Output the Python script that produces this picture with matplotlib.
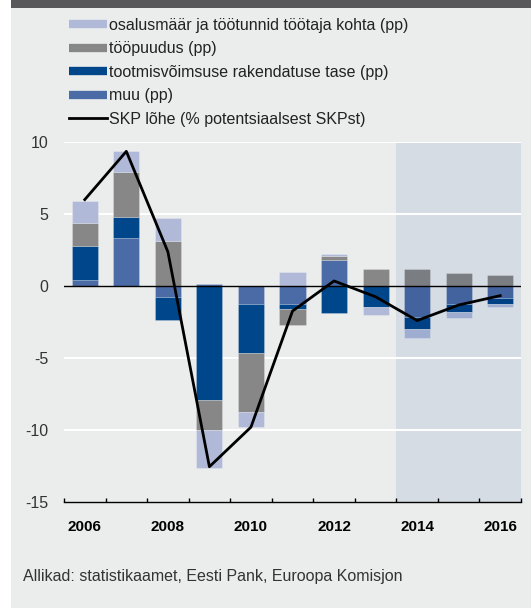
import numpy as np
import matplotlib.pyplot as plt
from matplotlib.lines import Line2D
from matplotlib.patches import Rectangle

plt.rcParams['font.family'] = ['Liberation Sans', 'DejaVu Sans']

# Data (percentage points)
years = list(range(2006, 2017))
muu = [0.42, 3.33, -0.74, 0.14, -1.25, -1.27, 1.80, 0.00, -2.18, -1.25, -0.86]
tootmisvoimsus = [2.33, 1.48, -1.62, -7.92, -3.43, -0.35, -1.90, -1.44, -0.81, -0.53, -0.41]
toopuudus = [1.62, 3.11, 3.15, -2.08, -4.05, -1.09, 0.30, 1.16, 1.16, 0.88, 0.79]
osalusmaar = [1.55, 1.43, 1.59, -2.66, -1.04, 0.95, 0.12, -0.55, -0.64, -0.42, -0.21]
skp_lohe = [6.0, 9.35, 2.38, -12.55, -9.8, -1.74, 0.35, -0.75, -2.4, -1.32, -0.67]
forecast_from = 2014

labels = ['osalusmäär ja töötunnid töötaja kohta (pp)', 'tööpuudus (pp)',
          'tootmisvõimsuse rakendatuse tase (pp)', 'muu (pp)',
          'SKP lõhe (% potentsiaalsest SKPst)']
source = 'Allikad: statistikaamet, Eesti Pank, Euroopa Komisjon'

bg = '#ebedec'
shade = '#d5dce3'
shade_mult = np.array([0.906, 0.928, 0.962])
col_os = '#b0bad8'
col_tp = '#878787'
col_tv = '#00468a'
col_muu = '#4a6ba5'

fig = plt.figure(figsize=(5.31, 6.08), dpi=100, facecolor='white')
fig.patches.append(Rectangle((11 / 531, 0), 1, 1, transform=fig.transFigure,
                             facecolor=bg, edgecolor='none', zorder=-10))
fig.patches.append(Rectangle((11 / 531, 1 - 8 / 608), 1, 8 / 608, transform=fig.transFigure,
                             facecolor='#58585a', edgecolor='none', zorder=-9))

ax = fig.add_axes([64 / 531, 1 - 502 / 608, (521 - 64) / 531, (502 - 142) / 608])
ax.set_facecolor('none')

x = np.arange(len(years))
n_fc = years.index(forecast_from)
ax.axvspan(n_fc - 0.5, len(years) - 0.5, color=shade, zorder=0, lw=0)

for v in [10, 5, -5, -10]:
    ax.axhline(v, color='white', lw=1.5, zorder=1)


def bar_colors(c):
    # bars under the forecast shading look darker (multiply blend)
    base = np.array(plt.matplotlib.colors.to_rgb(c))
    return [tuple(base * shade_mult) if i >= n_fc else tuple(base) for i in range(len(years))]


pos = np.zeros(len(years))
neg = np.zeros(len(years))
for vals, c in [(muu, col_muu), (tootmisvoimsus, col_tv), (toopuudus, col_tp), (osalusmaar, col_os)]:
    vals = np.array(vals)
    bottom = np.where(vals >= 0, pos, neg)
    ax.bar(x, vals, bottom=bottom, width=0.63, color=bar_colors(c),
           edgecolor=(1, 1, 1, 0.25), linewidth=0.6, zorder=2)
    pos = pos + np.where(vals >= 0, vals, 0)
    neg = neg + np.where(vals < 0, vals, 0)

ax.axhline(0, color='black', lw=1, zorder=3)
ax.plot(x, skp_lohe, color='black', lw=2, zorder=4)

ax.set_xlim(-0.5, len(years) - 0.5)
ax.set_ylim(-15, 10)
ax.set_yticks([10, 5, 0, -5, -10, -15])
ax.set_yticklabels(['10', '5', '0', '-5', '-10', '-15'])
ax.set_xticks(x[::2])
ax.set_xticklabels([str(y) for y in years[::2]], fontweight='bold', fontsize=11)
ax.set_xticks(np.arange(-0.5, len(years)), minor=True)
ax.tick_params(axis='x', which='major', length=0, pad=13, colors='black')
ax.tick_params(axis='x', which='minor', direction='in', length=3, width=1)
ax.tick_params(axis='y', length=0, pad=11, labelsize=11.5, labelcolor='#333333')
for s in ['top', 'right', 'left']:
    ax.spines[s].set_visible(False)
ax.spines['bottom'].set_linewidth(1)

handles = [Line2D([], [], color=col_os, lw=6, solid_capstyle='butt'),
           Line2D([], [], color=col_tp, lw=6, solid_capstyle='butt'),
           Line2D([], [], color=col_tv, lw=6, solid_capstyle='butt'),
           Line2D([], [], color=col_muu, lw=6, solid_capstyle='butt'),
           Line2D([], [], color='black', lw=2)]
fig.legend(handles, labels, loc='upper left', bbox_to_anchor=(69 / 531, 1 - 18 / 608),
           frameon=False, fontsize=11.5, handlelength=2.4, handletextpad=0.08,
           labelspacing=0.53, borderpad=0, borderaxespad=0, labelcolor='#222222')

fig.text(23 / 531, 1 - 577 / 608, source, fontsize=11.5, color='#333333', va='center')

fig.savefig('out.png', dpi=100, facecolor=fig.get_facecolor())
